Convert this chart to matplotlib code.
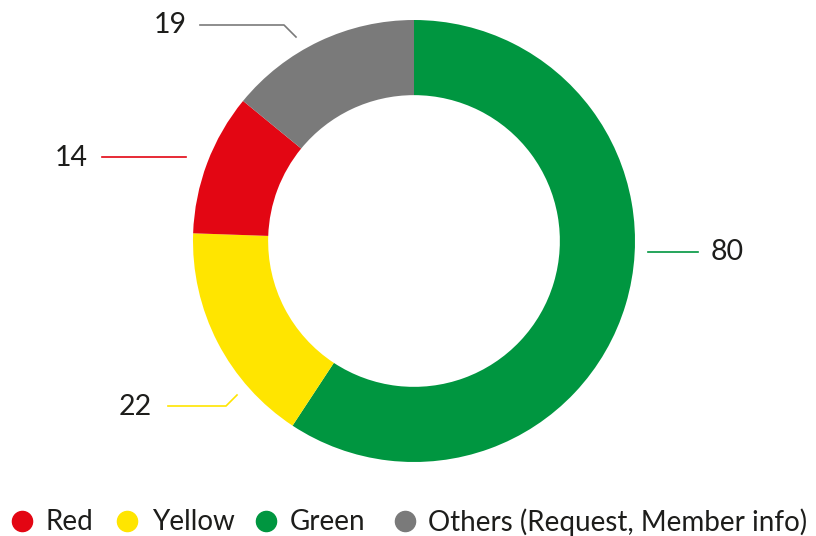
import matplotlib.pyplot as plt

plt.rcParams['font.family'] = ['Lato', 'DejaVu Sans']

# slices, clockwise from the top
categories = ['Green', 'Yellow', 'Red', 'Others (Request, Member info)']
values = [80, 22, 14, 19]
colors = ['#009640', '#FFE500', '#E30613', '#7A7A7A']
legend_order = [2, 1, 0, 3]

W, H = 816, 536

# label placement per slice: text position, leader polyline (pixels from top-left)
label_pos = [(727, 252), (135, 407), (71, 158), (170, 25)]
leaders = [
    [(648, 252), (698, 252)],
    [(168, 406), (226, 406), (237, 395)],
    [(102, 157), (186, 157)],
    [(200, 25), (284, 25), (296, 37)],
]
# legend entry positions (marker x, text x), in legend order
legend_x = [(22, 46), (127, 152), (266, 290), (405, 428)]
legend_y = 521
text_color = '#1d1d1b'

fig = plt.figure(figsize=(W / 100, H / 100), dpi=100)
ax = fig.add_axes([0, 0, 1, 1])

center = (414, H - 241)
radius = 221
ax.pie(values, colors=colors, startangle=90, counterclock=False,
       center=center, radius=radius, frame=True,
       wedgeprops=dict(width=radius * 0.34, linewidth=0))
ax.set_xlim(0, W)
ax.set_ylim(0, H)
ax.set_aspect('equal')
ax.axis('off')

for v, c, pos, pts in zip(values, colors, label_pos, leaders):
    xs = [p[0] for p in pts]
    ys = [H - p[1] for p in pts]
    ax.plot(xs, ys, color=c, lw=1.2)
    ax.text(pos[0], H - pos[1], str(v), fontsize=20.5, color=text_color,
            ha='center', va='center')

# legend
for i, (mx, tx) in zip(legend_order, legend_x):
    ax.plot(mx, H - legend_y, marker='o', markersize=14.5, color=colors[i],
            linestyle='', clip_on=False)
    ax.text(tx, H - legend_y - 1, categories[i], fontsize=20, color=text_color,
            ha='left', va='center')

fig.savefig('out.png', dpi=100)
